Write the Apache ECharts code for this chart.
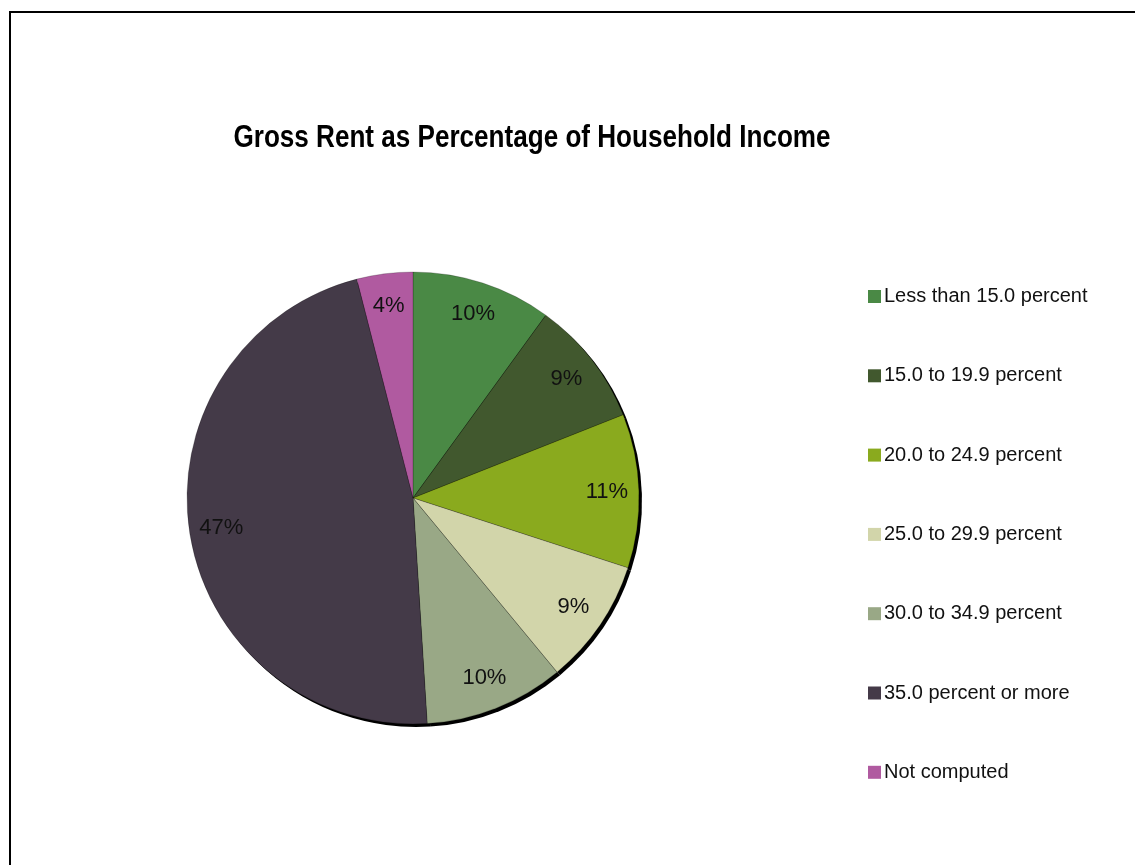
<!DOCTYPE html>
<html>
<head>
<meta charset="utf-8">
<script src="https://cdn.jsdelivr.net/npm/echarts@6/dist/echarts.min.js"></script>
<style>
  html, body { margin: 0; padding: 0; background: #fff; }
  #frame { position: absolute; left: 9px; top: 11px; width: 1200px; height: 900px;
           border-left: 2px solid #000; border-top: 2px solid #000; }
  #chart { position: absolute; left: 0; top: 0; width: 1135px; height: 865px; }
</style>
</head>
<body>
<div id="frame"></div>
<div id="chart"></div>
<script>
// Gross rent as a share of household income
const categories = [
  'Less than 15.0 percent',
  '15.0 to 19.9 percent',
  '20.0 to 24.9 percent',
  '25.0 to 29.9 percent',
  '30.0 to 34.9 percent',
  '35.0 percent or more',
  'Not computed'
];
const shares = [10, 9, 11, 9, 10, 47, 4];
const colors = ['#4a8945', '#41582e', '#8aaa1e', '#d2d5aa', '#99a886', '#443a48', '#b05aa0'];
const titleText = 'Gross Rent as Percentage of Household Income';

const FONT = '"Liberation Sans", Arial, sans-serif';
const CENTER = [413, 498];
const R = 226;

const slices = categories.map((name, i) => ({ name, value: shares[i] }));

const chart = echarts.init(document.getElementById('chart'), null, { renderer: 'canvas' });
chart.setOption({
  backgroundColor: 'transparent',
  animation: false,
  color: colors,
  graphic: [
    {
      // bold title, horizontally condensed
      type: 'text', x: 532, y: 138, scaleX: 0.815,
      style: {
        text: titleText,
        font: 'bold 32px "Liberation Sans", Arial, sans-serif',
        fill: '#000', align: 'center', verticalAlign: 'middle'
      }
    }
  ],
  legend: {
    orient: 'vertical',
    left: 868, top: 285.5, padding: 0,
    itemWidth: 13, itemHeight: 13, itemGap: 57.3,
    icon: 'rect',
    itemStyle: { borderWidth: 0 },
    data: categories,
    textStyle: { fontFamily: FONT, fontSize: 20, lineHeight: 22, color: '#111', padding: [0, 0, 0, -2] }
  },
  series: [
    {
      // the pie itself
      type: 'pie', z: 2,
      center: CENTER, radius: R,
      startAngle: 90, clockwise: true,
      data: slices,
      label: { show: false }, labelLine: { show: false },
      itemStyle: { borderColor: 'rgba(0,0,0,0.35)', borderWidth: 0.6 },
      emphasis: { disabled: true }
    },
    {
      // hard black drop shadow under the pie
      type: 'pie', z: 1, silent: true, legendHoverLink: false,
      center: [CENTER[0] + 3, CENTER[1] + 3], radius: R,
      startAngle: 90, clockwise: true,
      data: slices,
      itemStyle: { color: '#000' },
      label: { show: false }, labelLine: { show: false },
      emphasis: { disabled: true }
    },
    {
      // percentage labels placed near the rim
      type: 'pie', z: 3, silent: true, legendHoverLink: false,
      center: CENTER, radius: [R - 70, R],
      startAngle: 90, clockwise: true,
      data: slices,
      itemStyle: { color: 'transparent' },
      label: {
        show: true, position: 'inside',
        formatter: '{c}%',
        fontFamily: FONT, fontSize: 22, color: '#111'
      },
      labelLine: { show: false },
      emphasis: { disabled: true }
    }
  ]
});
</script>
</body>
</html>
